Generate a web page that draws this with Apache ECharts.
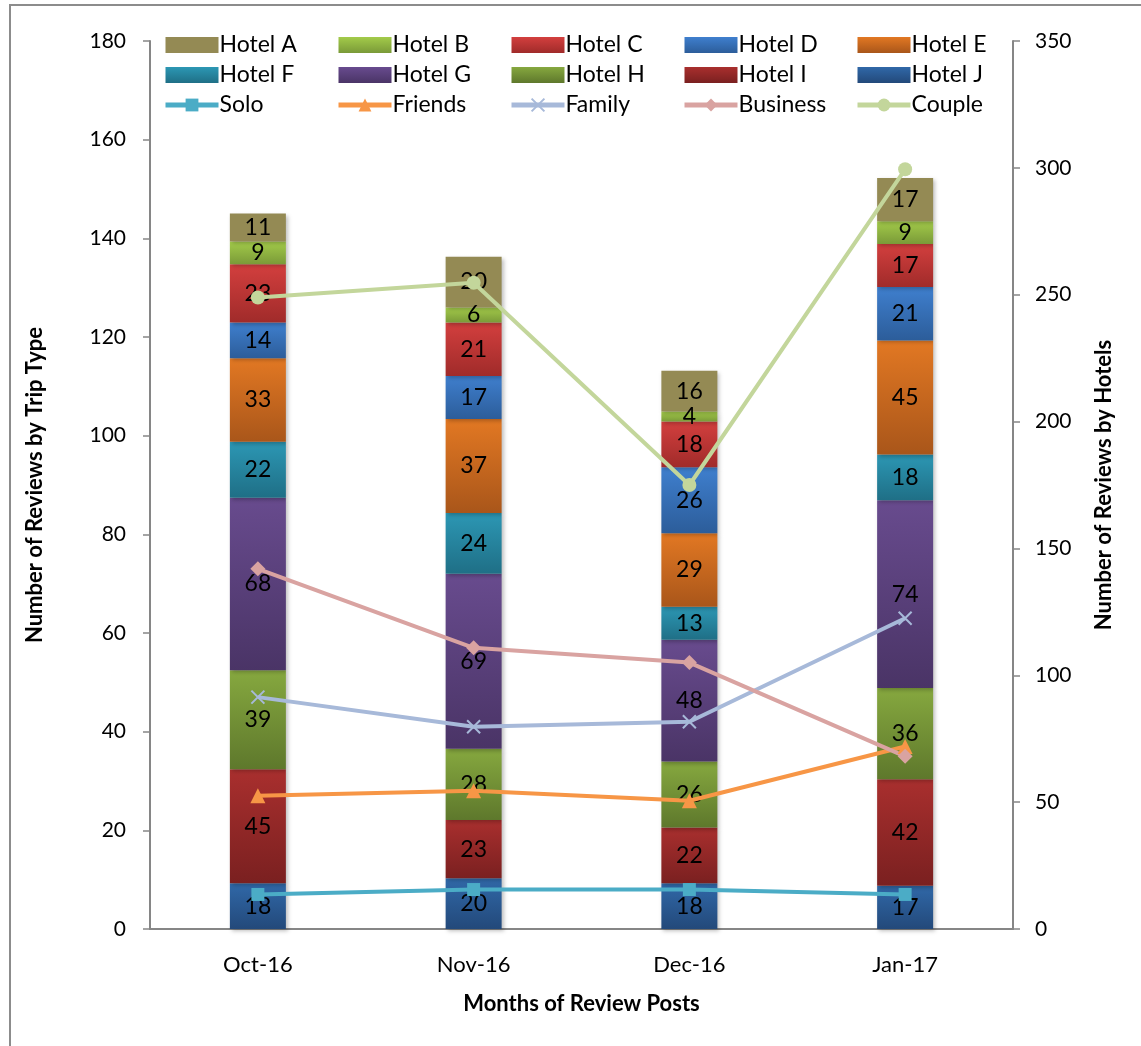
<!DOCTYPE html>
<html><head><meta charset="utf-8">
<script src="https://cdn.jsdelivr.net/npm/echarts@6/dist/echarts.min.js"></script>
<style>html,body{margin:0;padding:0;background:#fff}#c{width:1141px;height:1046px}</style>
</head><body><div id="c"></div>
<script>
const months = ['Oct-16', 'Nov-16', 'Dec-16', 'Jan-17'];
const hotelA = [11, 20, 16, 17];
const hotelB = [9, 6, 4, 9];
const hotelC = [23, 21, 18, 17];
const hotelD = [14, 17, 26, 21];
const hotelE = [33, 37, 29, 45];
const hotelF = [22, 24, 13, 18];
const hotelG = [68, 69, 48, 74];
const hotelH = [39, 28, 26, 36];
const hotelI = [45, 23, 22, 42];
const hotelJ = [18, 20, 18, 17];
const solo = [7, 8, 8, 7];
const friends = [27, 28, 26, 37];
const family = [47, 41, 42, 63];
const business = [73, 57, 54, 35];
const couple = [128, 131, 90, 154];

const FONT = 'Lato, "Open Sans", sans-serif';
function grad(top, bottom) {
  return new echarts.graphic.LinearGradient(0, 0, 0, 1, [{offset: 0, color: top}, {offset: 1, color: bottom}]);
}
const hotels = [
  ['Hotel J', hotelJ, '#3068A8', '#23497A'],
  ['Hotel I', hotelI, '#A92F2E', '#7A2020'],
  ['Hotel H', hotelH, '#86A83F', '#5E782C'],
  ['Hotel G', hotelG, '#684B8E', '#4A3466'],
  ['Hotel F', hotelF, '#2C97B4', '#1F6F86'],
  ['Hotel E', hotelE, '#E27823', '#A9561A'],
  ['Hotel D', hotelD, '#3F7FCE', '#2C5D9A'],
  ['Hotel C', hotelC, '#D33F3E', '#A02B2A'],
  ['Hotel B', hotelB, '#A3CB4A', '#7A9A38'],
  ['Hotel A', hotelA, '#948A54', '#948A54']
];
const series = hotels.map(h => ({
  name: h[0], type: 'bar', stack: 'hotels', yAxisIndex: 1, data: h[1], barWidth: 56,
  itemStyle: {color: grad(h[2], h[3]), shadowColor: 'rgba(0,0,0,0.25)', shadowBlur: 4, shadowOffsetX: 2, shadowOffsetY: 2},
  label: {show: true, position: 'inside', color: '#000', fontFamily: FONT, fontSize: 23},
  emphasis: {disabled: true}
}));
const lines = [
  ['Solo', solo, '#4BACC6', 'rect', 13],
  ['Friends', friends, '#F79646', 'triangle', 15],
  ['Family', family, '#A7B9D9', 'path://M0,0 L10,10 M10,0 L0,10', 13],
  ['Business', business, '#D9A3A1', 'diamond', 15],
  ['Couple', couple, '#C3D69B', 'circle', 14]
];
lines.forEach(l => {
  const isX = l[0] === 'Family';
  series.push({
    name: l[0], type: 'line', yAxisIndex: 0, data: l[1], z: 5,
    symbol: l[3], symbolSize: l[4],
    lineStyle: {color: l[2], width: 4},
    itemStyle: isX ? {color: 'rgba(0,0,0,0)', borderColor: l[2], borderWidth: 2} : {color: l[2]},
    emphasis: {disabled: true}
  });
});
const cols = [
  ['Hotel A', 'Hotel F', 'Solo'],
  ['Hotel B', 'Hotel G', 'Friends'],
  ['Hotel C', 'Hotel H', 'Family'],
  ['Hotel D', 'Hotel I', 'Business'],
  ['Hotel E', 'Hotel J', 'Couple']
];
const barNames = hotels.map(h => h[0]);
const legends = cols.map((c, i) => ({
  data: c.map(n => barNames.includes(n) ? {name: n, icon: 'rect'} : {name: n}),
  orient: 'vertical', left: 158 + 173 * i, top: 28, itemGap: 6,
  itemWidth: 53, itemHeight: 16, selectedMode: false,
  lineStyle: {width: 5},
  textStyle: {fontFamily: FONT, fontSize: 23, lineHeight: 24, color: '#000', padding: [0, 0, 0, -4]}
}));
const axisCommon = {
  axisLine: {show: true, lineStyle: {color: '#868686', width: 2}},
  axisTick: {show: true, length: 7, lineStyle: {color: '#868686', width: 1.5}},
  splitLine: {show: false},
  axisLabel: {color: '#000', fontFamily: FONT, fontSize: 21, margin: 24},
  nameLocation: 'middle'
};
const titleStyle = {color: '#000', fontFamily: FONT, fontSize: 22, fontWeight: 'bold'};
const chart = echarts.init(document.getElementById('c'));
chart.setOption({
  animation: false,
  backgroundColor: '#fff',
  legend: legends,
  grid: {left: 150, right: 128, top: 41, bottom: 117},
  xAxis: {
    type: 'category', data: months,
    axisLine: {lineStyle: {color: '#868686', width: 2}},
    axisTick: {show: false},
    axisLabel: {color: '#000', fontFamily: FONT, fontSize: 22, margin: 25},
    name: 'Months of Review Posts', nameLocation: 'middle', nameGap: 64,
    nameTextStyle: titleStyle
  },
  yAxis: [
    Object.assign({}, axisCommon, {type: 'value', min: 0, max: 180, interval: 20, position: 'left',
      name: 'Number of Reviews by Trip Type', nameGap: 104, nameTextStyle: titleStyle}),
    Object.assign({}, axisCommon, {type: 'value', min: 0, max: 350, interval: 50, position: 'right',
      name: 'Number of Reviews by Hotels', nameGap: 80, nameRotate: 90,
      axisLabel: {color: '#000', fontFamily: FONT, fontSize: 21, margin: 22},
      nameTextStyle: titleStyle})
  ],
  graphic: [{type: 'rect', shape: {x: 10, y: 5, width: 1200, height: 1100}, style: {fill: 'none', stroke: '#8C8C8C', lineWidth: 2}, silent: true, z: -1}],
  series: series
});
</script></body></html>
